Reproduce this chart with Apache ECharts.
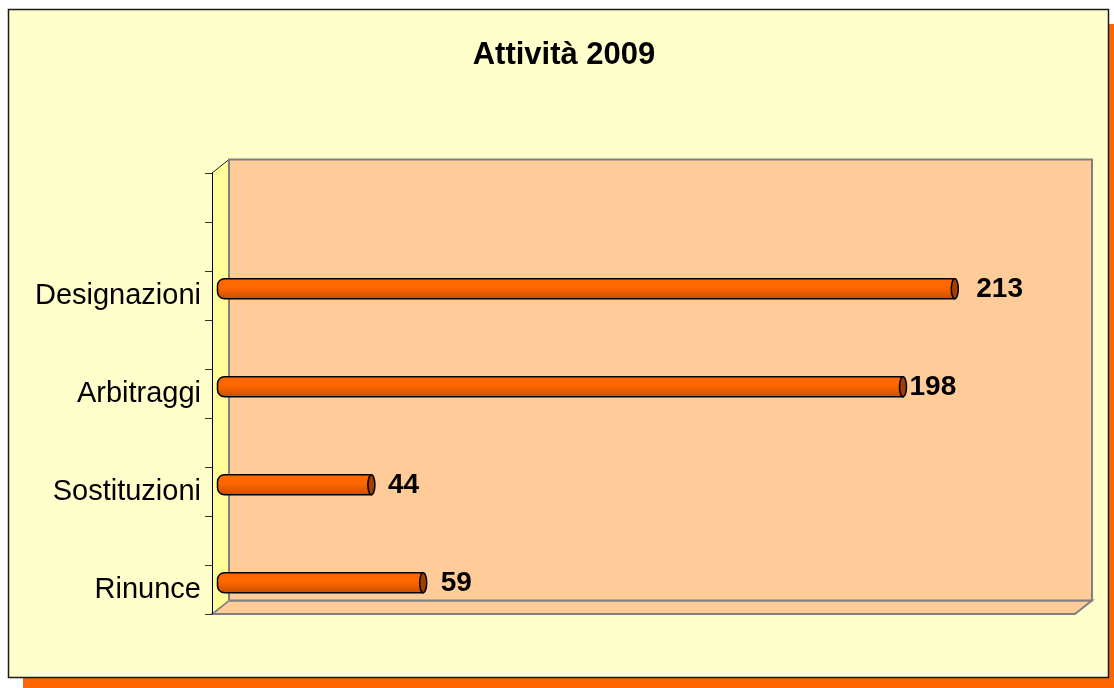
<!DOCTYPE html>
<html>
<head>
<meta charset="utf-8">
<script src="https://cdn.jsdelivr.net/npm/echarts@6/dist/echarts.min.js"></script>
<style>
html,body{margin:0;padding:0;background:#ffffff;}
#chart{width:1114px;height:688px;}
</style>
</head>
<body>
<div id="chart"></div>
<script>
// ---- data (bottom to top, blank rows as in the source sheet) ----
const titleText = 'Attività 2009';
const categories = ['Rinunce', '', 'Sostituzioni', '', 'Arbitraggi', '', 'Designazioni', '', ''];
const values = [59, null, 44, null, 198, null, 213, null, null];
const axisMax = 250;

// ---- layout / style ----
const FONT = "'Liberation Sans', Arial, sans-serif";
const G = { left: 212, top: 173, width: 863, height: 441 };   // front plane
const D = { dx: 17, dy: -13.5 };                              // 3D depth offset
const labelGap = [14, 0, 13, 0, 3, 0, 18, 0, 0];

const chart = echarts.init(document.getElementById('chart'), null, { renderer: 'canvas' });
const bx = G.left + D.dx, by = G.top + D.dy;
const gR = G.left + G.width, gB = G.top + G.height;
const seriesData = [];
values.forEach((v, i) => { if (v != null) seriesData.push([v, i]); });

const deco = [
  { type: 'rect', shape: { x: 23, y: 24, width: 1101, height: 669 }, style: { fill: '#FF6600' } },
  { type: 'rect', shape: { x: 8.5, y: 9.5, width: 1100, height: 668 }, style: { fill: '#FFFFCC', stroke: '#1a1a1a', lineWidth: 1.5 } },
  // floor
  { type: 'polygon', shape: { points: [[G.left, gB], [bx, gB + D.dy], [gR + D.dx, gB + D.dy], [gR, gB]] },
    style: { fill: '#FFCC99', stroke: '#808080', lineWidth: 2 } },
  // back wall
  { type: 'rect', shape: { x: bx, y: by, width: G.width, height: G.height }, style: { fill: '#FFCC99', stroke: '#808080', lineWidth: 2 } },
  // side wall
  { type: 'polygon', shape: { points: [[G.left, G.top], [bx, by], [bx, gB + D.dy], [G.left, gB]] },
    style: { fill: '#FFFF99', stroke: '#FFFF99', lineWidth: 0.5 } },
  { type: 'line', shape: { x1: G.left, y1: G.top, x2: bx, y2: by }, style: { stroke: '#222', lineWidth: 1 } },
  { type: 'line', shape: { x1: G.left, y1: gB, x2: bx, y2: gB + D.dy }, style: { stroke: '#808080', lineWidth: 1.5 } },
  { type: 'line', shape: { x1: bx, y1: by, x2: bx, y2: gB + D.dy }, style: { stroke: '#808080', lineWidth: 2 } }
];
deco.forEach((e, i) => { e.z = -10; e.z2 = i; e.silent = true; });

const option = {
  animation: false,
  backgroundColor: '#ffffff',
  title: { text: titleText, left: 559, top: 35, textAlign: 'center',
    textStyle: { fontFamily: FONT, fontSize: 31, fontWeight: 'bold', color: '#000' } },
  graphic: deco,
  grid: [
    { left: G.left, top: G.top, width: G.width, height: G.height },
    { left: G.left + D.dx / 2 - 1, top: G.top + D.dy / 2, width: G.width, height: G.height }
  ],
  xAxis: [
    { gridIndex: 0, type: 'value', min: 0, max: axisMax, show: false },
    { gridIndex: 1, type: 'value', min: 0, max: axisMax, show: false }
  ],
  yAxis: [
    { gridIndex: 0, type: 'category', data: categories,
      axisLine: { show: true, lineStyle: { color: '#000', width: 1 } },
      axisTick: { show: true, length: 7, lineStyle: { color: '#333', width: 1 } },
      axisLabel: { margin: 11, fontFamily: FONT, fontSize: 29, color: '#000' },
      splitLine: { show: false } },
    { gridIndex: 1, type: 'category', data: categories, show: false }
  ],
  series: [{
    type: 'custom', xAxisIndex: 1, yAxisIndex: 1, data: seriesData, encode: { x: 0, y: 1 },
    renderItem: function (params, api) {
      const v = api.value(0), c = api.value(1);
      const p0 = api.coord([0, c]), p1 = api.coord([v, c]);
      const h = 20, cy = p0[1], x0 = p0[0] - 2, x1 = p1[0];
      return { type: 'group', children: [
        { type: 'rect', shape: { x: x0, y: cy - h / 2, width: x1 - x0, height: h, r: [7, 0, 0, 7] },
          style: { fill: new echarts.graphic.LinearGradient(0, 0, 0, 1, [
            { offset: 0, color: '#FF6A00' }, { offset: 0.45, color: '#FF6600' }, { offset: 1, color: '#C84E00' }]),
            stroke: '#000', lineWidth: 1.5 } },
        { type: 'ellipse', shape: { cx: x1, cy: cy, rx: 3.5, ry: h / 2 }, style: { fill: '#A04000', stroke: '#000', lineWidth: 1.5 } },
        { type: 'text', style: { text: String(v), x: x1 + 3.5 + labelGap[c], y: cy + 1, align: 'left', verticalAlign: 'middle',
            font: "bold 28px 'Liberation Sans', Arial, sans-serif", fill: '#000' } }
      ] };
    }
  }]
};
chart.setOption(option);
</script>
</body>
</html>
